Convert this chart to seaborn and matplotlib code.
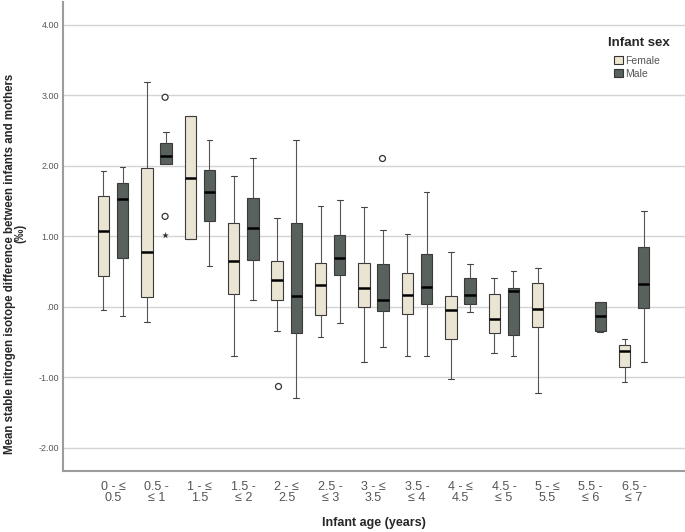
import numpy as np
import pandas as pd
import matplotlib
matplotlib.use('Agg')
import matplotlib.pyplot as plt
import seaborn as sns
from matplotlib.patches import Patch

# age groups (x categories) and their two-line tick labels
age_groups = ['0 - ≤ 0.5', '0.5 - ≤ 1', '1 - ≤ 1.5', '1.5 - ≤ 2', '2 - ≤ 2.5', '2.5 - ≤ 3',
              '3 - ≤ 3.5', '3.5 - ≤ 4', '4 - ≤ 4.5', '4.5 - ≤ 5', '5 - ≤ 5.5', '5.5 - ≤ 6', '6.5 - ≤ 7']
tick_labels = ['0 - ≤\n0.5', '0.5 -\n≤ 1', '1 - ≤\n1.5', '1.5 -\n≤ 2', '2 - ≤\n2.5', '2.5 -\n≤ 3',
               '3 - ≤\n3.5', '3.5 -\n≤ 4', '4 - ≤\n4.5', '4.5 -\n≤ 5', '5 - ≤\n5.5', '5.5 -\n≤ 6', '6.5 -\n≤ 7']
sexes = ['Female', 'Male']

# one entry per box: age group index, sex, five-number summary
box_age = [0, 0, 1, 1, 2, 2, 3, 3, 4, 4, 5, 5, 6, 6, 7, 7, 8, 8, 9, 9, 10, 11, 12, 12]
box_sex = ['Female', 'Male'] * 10 + ['Female', 'Male', 'Female', 'Male']
whisker_low = [-0.05, -0.14, -0.22, 2.03, 0.96, 0.58, -0.70, 0.10, -0.34, -1.29, -0.43, -0.23,
               -0.79, -0.57, -0.70, -0.70, -1.03, -0.08, -0.66, -0.70, -1.22, -0.36, -1.07, -0.79]
q1 = [0.44, 0.69, 0.14, 2.03, 0.96, 1.21, 0.18, 0.66, 0.10, -0.38, -0.12, 0.45,
      0.00, -0.06, -0.11, 0.04, -0.46, 0.03, -0.37, -0.41, -0.29, -0.34, -0.85, -0.02]
median = [1.07, 1.52, 0.77, 2.13, 1.83, 1.62, 0.64, 1.12, 0.38, 0.15, 0.30, 0.69,
          0.27, 0.09, 0.16, 0.28, -0.05, 0.16, -0.17, 0.22, -0.04, -0.13, -0.63, 0.32]
q3 = [1.57, 1.75, 1.96, 2.32, 2.71, 1.94, 1.19, 1.54, 0.64, 1.19, 0.62, 1.02,
      0.62, 0.60, 0.47, 0.74, 0.15, 0.40, 0.18, 0.27, 0.33, 0.07, -0.54, 0.84]
whisker_high = [1.93, 1.98, 3.18, 2.48, 2.71, 2.37, 1.86, 2.11, 1.26, 2.37, 1.43, 1.51,
                1.41, 1.08, 1.03, 1.62, 0.77, 0.61, 0.41, 0.50, 0.55, 0.07, -0.46, 1.36]

# outliers ('o') and extreme values ('*')
out_age = [1, 1, 1, 4, 6]
out_sex = ['Male', 'Male', 'Male', 'Female', 'Male']
out_value = [2.97, 1.28, 1.01, -1.13, 2.11]
out_marker = ['o', 'o', '*', 'o', 'o']

rows = []
for a, s, *vals in zip(box_age, box_sex, whisker_low, q1, median, q3, whisker_high):
    for v in vals:
        rows.append((age_groups[a], s, v))
df = pd.DataFrame(rows, columns=['age', 'sex', 'value'])

odf = pd.DataFrame({'age': [age_groups[a] for a in out_age], 'sex': out_sex,
                    'value': out_value, 'marker': out_marker})

sns.set_style('white')
plt.rcParams['font.family'] = ['Liberation Sans', 'DejaVu Sans']

pal = {'Female': '#EEE6CF', 'Male': '#56625B'}

fig = plt.figure(figsize=(6.85, 5.32), dpi=100)
ax = fig.add_axes([0.092, 0.115, 0.908, 0.881])

sns.boxplot(data=df, x='age', y='value', hue='sex', order=age_groups, hue_order=sexes,
            palette=pal, width=0.88, gap=0.4, whis=(0, 100), showfliers=False,
            linecolor='#3a3a3a', linewidth=0.8,
            medianprops=dict(color='black', linewidth=1.8),
            whiskerprops=dict(color='#555555'), capprops=dict(color='#444444'),
            legend=False, ax=ax)

sns.stripplot(data=odf[odf.marker == 'o'], x='age', y='value', hue='sex', order=age_groups,
              hue_order=sexes, dodge=True, jitter=False, marker='o', size=4.3,
              palette={'Female': 'white', 'Male': 'white'}, edgecolor='#333333', linewidth=0.9,
              legend=False, ax=ax)
sns.stripplot(data=odf[odf.marker == '*'], x='age', y='value', hue='sex', order=age_groups,
              hue_order=sexes, dodge=True, jitter=False, marker='*', size=5,
              palette={'Female': '#333333', 'Male': '#333333'}, legend=False, ax=ax)

ax.set_xlim(-1.15, 13.17)
ax.set_ylim(-2.33, 4.32)
ax.set_yticks([-2, -1, 0, 1, 2, 3, 4])
ax.set_yticklabels(['-2.00', '-1.00', '.00', '1.00', '2.00', '3.00', '4.00'])
ax.set_xticks(range(len(age_groups)))
ax.set_xticklabels(tick_labels, linespacing=0.95)
ax.tick_params(axis='x', length=0, pad=7, labelsize=9, labelcolor='#555555')
ax.tick_params(axis='y', length=0, pad=3, labelsize=6.5, labelcolor='#555555')
ax.set_xlabel('Infant age (years)', fontsize=9, fontweight='bold', labelpad=9)
ax.set_ylabel('')
ax.yaxis.grid(True, color='#d4d4d4', linewidth=1)
ax.set_axisbelow(True)
sns.despine(ax=ax)
for sp in ['left', 'bottom']:
    ax.spines[sp].set_color('#9c9c9c')
    ax.spines[sp].set_linewidth(1.5)

fig.text(0.014, 0.504, 'Mean stable nitrogen isotope difference between infants and mothers',
         rotation=90, ha='center', va='center', fontsize=8.3, fontweight='bold')
fig.text(0.030, 0.562, '(‰)', rotation=90, ha='center', va='center', fontsize=8.3, fontweight='bold')

# legend: title as text, entries indented below it
fig.text(0.888, 0.919, 'Infant sex', ha='left', va='center', fontsize=9.5, fontweight='bold')
handles = [Patch(facecolor=pal[s], edgecolor='#333333', linewidth=0.8, label=s) for s in sexes]
ax.legend(handles=handles, loc='upper left', bbox_to_anchor=(0.897, 0.895),
          bbox_transform=fig.transFigure, frameon=False, prop={'size': 7.5},
          handlelength=0.8, handleheight=0.8, handletextpad=0.25, labelspacing=0.3,
          borderaxespad=0, borderpad=0)
for t in ax.get_legend().get_texts():
    t.set_color('#555555')

fig.savefig('out.png', dpi=100)
